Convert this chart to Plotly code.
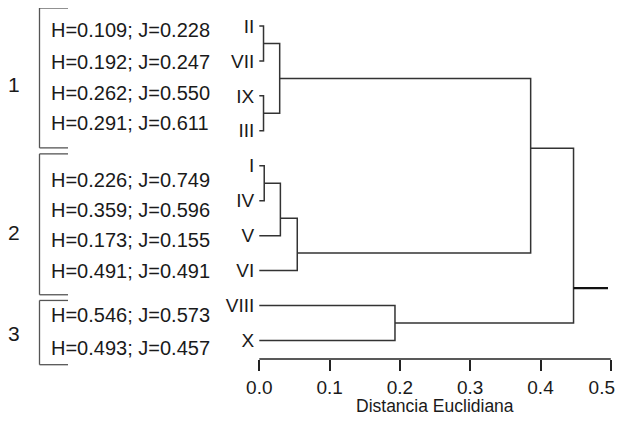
import plotly.graph_objects as go

# ---------------- data ----------------
leaf_labels = ["II", "VII", "IX", "III", "I", "IV", "V", "VI", "VIII", "X"]

merge_names = ["m1", "m2", "m3", "m4", "m5", "m6", "m7", "m8", "m9"]
merge_left = ["II", "IX", "m1", "I", "m4", "m5", "m3", "VIII", "m7"]
merge_right = ["VII", "III", "m2", "IV", "V", "VI", "m6", "X", "m8"]
merge_height = [0.006, 0.006, 0.029, 0.007, 0.030, 0.054, 0.386, 0.193, 0.447]
merge_pos = [0.5, 2.5, 1.5, 4.5, 5.5, 6.5, 3.5, 8.5, 7.5]
root_end = 0.496

group_names = ["1", "2", "3"]
group_texts = [
    ["H=0.109; J=0.228", "H=0.192; J=0.247", "H=0.262; J=0.550", "H=0.291; J=0.611"],
    ["H=0.226; J=0.749", "H=0.359; J=0.596", "H=0.173; J=0.155", "H=0.491; J=0.491"],
    ["H=0.546; J=0.573", "H=0.493; J=0.457"],
]

tick_vals = [0.0, 0.1, 0.2, 0.3, 0.4, 0.5]
tick_text = ["0.0", "0.1", "0.2", "0.3", "0.4", "0.5"]
x_title = "Distancia Euclidiana"

# ---------------- layout helpers ----------------
OFF = 8                          # page body margin
W, H = 623 - OFF, 423 - 2 * OFF  # figure size (avoid page overflow)
PLOT_BOTTOM = 359.3              # pixel row of the axis line (reference coords)
X0_PX, PX_PER_UNIT = 259.3, 703.0
LEAF0_PX, LEAF_STEP = 26.0, 34.97

def px_x(p):
    return (p - OFF) / W

def px_y(p):
    return 1 - (p - OFF) / (PLOT_BOTTOM - OFF)

FONT = "Liberation Sans, Arial, Helvetica, sans-serif"
LINE_COL = "#333333"
TEXT_COL = "#1a1a1a"
X_RANGE = [(OFF - X0_PX) / PX_PER_UNIT, (623 - X0_PX) / PX_PER_UNIT]

# node lookup
pos = {lab: i for i, lab in enumerate(leaf_labels)}
hgt = {lab: 0.0 for lab in leaf_labels}
for n, p, h in zip(merge_names, merge_pos, merge_height):
    pos[n] = p
    hgt[n] = h

xs, ys = [], []
for n, a, b, h in zip(merge_names, merge_left, merge_right, merge_height):
    xs += [hgt[a], h, h, hgt[b], None]
    ys += [pos[a], pos[a], pos[b], pos[b], None]

fig = go.Figure()
fig.add_trace(go.Scatter(x=xs, y=ys, mode="lines",
                         line=dict(color=LINE_COL, width=1.5),
                         hoverinfo="skip", showlegend=False))
root = merge_names[-1]
fig.add_trace(go.Scatter(x=[hgt[root], root_end], y=[pos[root], pos[root]], mode="lines",
                         line=dict(color="#111111", width=2.3),
                         hoverinfo="skip", showlegend=False))
# empty trace so the overlay axis (last tick label) is drawn
fig.add_trace(go.Scatter(x=[None], y=[None], xaxis="x2", mode="lines",
                         hoverinfo="skip", showlegend=False))

# x axis line from 0 to 0.5
fig.add_shape(type="line", xref="x", yref="paper", x0=tick_vals[0], x1=tick_vals[-1],
              y0=0, y1=0, line=dict(color="#222222", width=1.5))

annotations = []
text_rows_px = [[30, 62, 93, 123], [180, 210, 240, 271.5], [315, 348]]
group_num_px = [85, 233, 334]
bracket_px = [(8, 148), (154, 295), (300.7, 365)]
for g, name in enumerate(group_names):
    for t, yp in zip(group_texts[g], text_rows_px[g]):
        annotations.append(dict(x=px_x(49), y=px_y(yp), xref="paper", yref="paper",
                                text=t, showarrow=False, xanchor="left", yanchor="middle",
                                font=dict(family=FONT, size=20, color=TEXT_COL)))
    annotations.append(dict(x=px_x(14), y=px_y(group_num_px[g]), xref="paper", yref="paper",
                            text=name, showarrow=False, xanchor="center", yanchor="middle",
                            font=dict(family=FONT, size=21, color=TEXT_COL)))
    top, bot = bracket_px[g]
    xv, xh = px_x(39.5), px_x(68)
    for (xa, ya, xb, yb) in [(xv, top, xv, bot), (xv, top, xh, top), (xv, bot, xh, bot)]:
        fig.add_shape(type="line", xref="paper", yref="paper",
                      x0=xa, y0=px_y(ya), x1=xb, y1=px_y(yb),
                      line=dict(color="#555555", width=1.3))

annotations.append(dict(x=0.25, y=px_y(406), xref="x", yref="paper", text=x_title,
                        showarrow=False, xanchor="center", yanchor="middle",
                        font=dict(family=FONT, size=17.5, color=TEXT_COL)))

tick_font = dict(family=FONT, size=19, color=TEXT_COL)
fig.update_layout(
    width=W, height=H,
    margin=dict(l=0, r=0, t=0, b=H - (PLOT_BOTTOM - OFF), pad=0),
    paper_bgcolor="white", plot_bgcolor="white",
    showlegend=False,
    annotations=annotations,
    xaxis=dict(range=X_RANGE,
               tickmode="array", tickvals=tick_vals,
               ticktext=tick_text[:-1] + [""],
               ticks="outside", ticklen=11, tickwidth=1.5, tickcolor="#222222",
               showline=False, showgrid=False, zeroline=False,
               tickfont=tick_font),
    xaxis2=dict(range=X_RANGE, overlaying="x", side="bottom", anchor="y",
                tickmode="array", tickvals=tick_vals[-1:], ticktext=tick_text[-1:],
                ticks="outside", ticklen=11, tickwidth=1.5, tickcolor="#222222",
                ticklabelshift=-9,
                showline=False, showgrid=False, zeroline=False,
                tickfont=tick_font),
    yaxis=dict(range=[(PLOT_BOTTOM - LEAF0_PX) / LEAF_STEP, (OFF - LEAF0_PX) / LEAF_STEP],
               tickmode="array", tickvals=list(range(len(leaf_labels))), ticktext=leaf_labels,
               anchor="free", position=(X0_PX - OFF) / W, side="left",
               ticks="", ticklabelstandoff=5,
               showline=False, showgrid=False, zeroline=False,
               tickfont=dict(family=FONT, size=19, color=TEXT_COL)),
)

fig.write_html("out.html")
